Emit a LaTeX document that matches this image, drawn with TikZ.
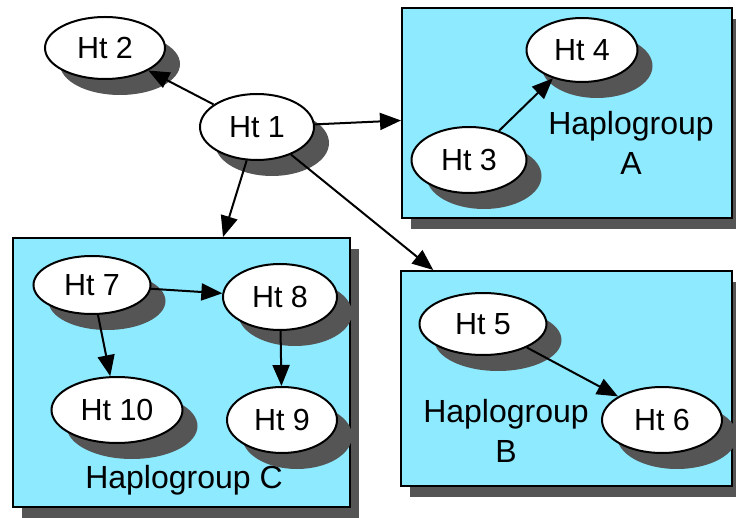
\documentclass[tikz,border=0pt]{standalone}
\usepackage{fontspec}
\setmainfont{Liberation Sans}
\usetikzlibrary{shapes.geometric,arrows.meta,shadows}
\definecolor{boxcyan}{RGB}{142,234,255}
\definecolor{shadowgray}{RGB}{85,85,85}
\begin{document}
\begin{tikzpicture}[x=1pt,y=-1pt,
  ht/.style={ellipse, draw, line width=2pt, fill=white, inner sep=0pt,
    minimum width=115pt, minimum height=64pt, font=\fontsize{30.5}{34}\selectfont,
    drop shadow={shadow xshift=15pt, shadow yshift=-16pt, fill=shadowgray, opacity=1}},
  grp/.style={rectangle, draw, line width=2pt, fill=boxcyan, inner sep=0pt,
    drop shadow={shadow xshift=9pt, shadow yshift=-11pt, fill=shadowgray, opacity=1}},
  lbl/.style={align=center, inner sep=0pt, font=\fontsize{32}{40}\selectfont},
  edge/.style={-{Triangle[length=21pt,width=17pt]}, line width=2pt}]
\useasboundingbox (0,0) rectangle (736,518);
% groups
\node[grp, minimum width=330pt, minimum height=210pt] (A) at (567,113) {};
\node[grp, minimum width=331pt, minimum height=215pt] (B) at (566.5,378.5) {};
\node[grp, minimum width=337pt, minimum height=269pt] (C) at (181.5,372.5) {};
\node[lbl] (la) at (631,143) {Haplogroup\\A};
\node[lbl] (lb) at (506,431) {Haplogroup\\B};
\node[lbl] (lc) at (184,480) {Haplogroup C};
% haplotypes
\node[ht, minimum width=120pt, minimum height=62pt] (h2) at (105,48) {Ht 2};
\node[ht, minimum width=114pt, minimum height=66pt] (h1) at (257,127) {Ht 1};
\node[ht, minimum width=111pt] (h4) at (582,50) {Ht 4};
\node[ht, minimum height=66pt] (h3) at (469,160) {Ht 3};
\node[ht, minimum width=127pt, minimum height=62pt] (h5) at (483,324) {Ht 5};
\node[ht, minimum width=120pt, minimum height=66pt] (h6) at (662,420) {Ht 6};
\node[ht, minimum width=117pt, minimum height=58pt] (h7) at (92,285) {Ht 7};
\node[ht, minimum width=114pt, minimum height=66pt] (h8) at (280,297) {Ht 8};
\node[ht, minimum width=131pt, minimum height=66pt] (h10) at (117,410) {Ht 10};
\node[ht, minimum width=110pt, minimum height=66pt] (h9) at (282,420) {Ht 9};
% edges
\draw[edge] (h1) -- (h2);
\draw[edge] (h1) -- (A);
\draw[edge] (h1) -- (B);
\draw[edge] (h1) -- (C);
\draw[edge] (h3) -- (h4);
\draw[edge] (h5) -- (h6);
\draw[edge] (h7) -- (h8);
\draw[edge] (h7) -- (h10);
\draw[edge] (h8) -- (h9);
\end{tikzpicture}
\end{document}
